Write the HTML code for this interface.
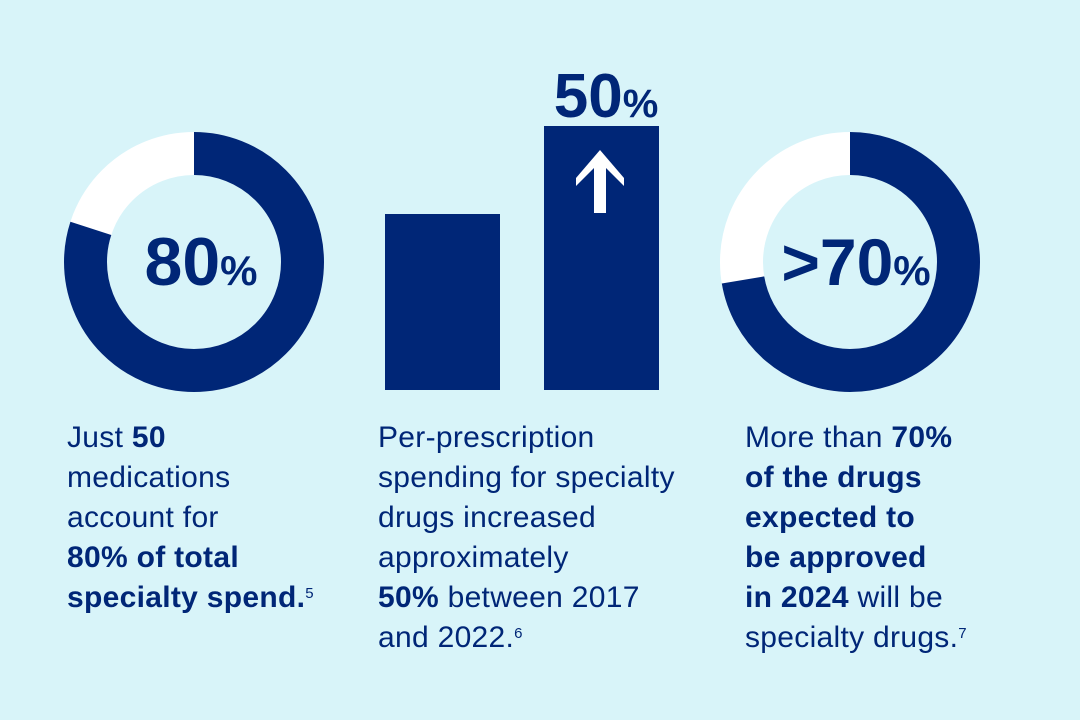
<!DOCTYPE html>
<html><head><style>
body{margin:0;width:1080px;height:720px;background:#d8f4f9;overflow:hidden;font-family:"Liberation Sans",sans-serif;}
.t{position:absolute;font-size:30px;line-height:40px;color:#002677;letter-spacing:0.3px;}
b{font-weight:bold;}
sup{font-size:15px;vertical-align:top;position:relative;top:-4px;}
</style></head><body>
<svg width="1080" height="720" style="position:absolute;left:0;top:0">
<g fill="none" stroke-width="43">
<circle cx="194" cy="262" r="108.5" stroke="#fff"/>
<circle cx="194" cy="262" r="108.5" stroke="#002677" stroke-dasharray="545.3 1000" transform="rotate(-90 194 262)"/>
<circle cx="850" cy="262" r="108.5" stroke="#fff"/>
<circle cx="850" cy="262" r="108.5" stroke="#002677" stroke-dasharray="493 1000" transform="rotate(-90 850 262)"/>
</g>
<rect x="385" y="214" width="115" height="176" fill="#002677"/>
<rect x="544" y="126" width="115" height="264" fill="#002677"/>
<path d="M600 150 L624 178 L624 186 L606 168 L606 213 L594 213 L594 168 L576 186 L576 178 Z" fill="#fff"/>
<g fill="#002677" font-family="Liberation Sans" font-weight="bold" text-anchor="middle">
<text x="201" y="285" font-size="68">80<tspan font-size="42">%</tspan></text>
<text x="606" y="117" font-size="62">50<tspan font-size="40">%</tspan></text>
<text x="856" y="285" font-size="66">&gt;70<tspan font-size="42">%</tspan></text>
</g>
</svg>
<div class="t" style="left:67px;top:418px">Just <b>50</b><br>medications<br>account for<br><b>80% of total<br>specialty spend.</b><sup>5</sup></div>
<div class="t" style="left:378px;top:418px">Per-prescription<br>spending for specialty<br>drugs increased<br>approximately<br><b>50%</b> between 2017<br>and 2022.<sup>6</sup></div>
<div class="t" style="left:745px;top:418px">More than <b>70%<br>of the drugs<br>expected to<br>be approved<br>in 2024</b> will be<br>specialty drugs.<sup>7</sup></div>
</body></html>
